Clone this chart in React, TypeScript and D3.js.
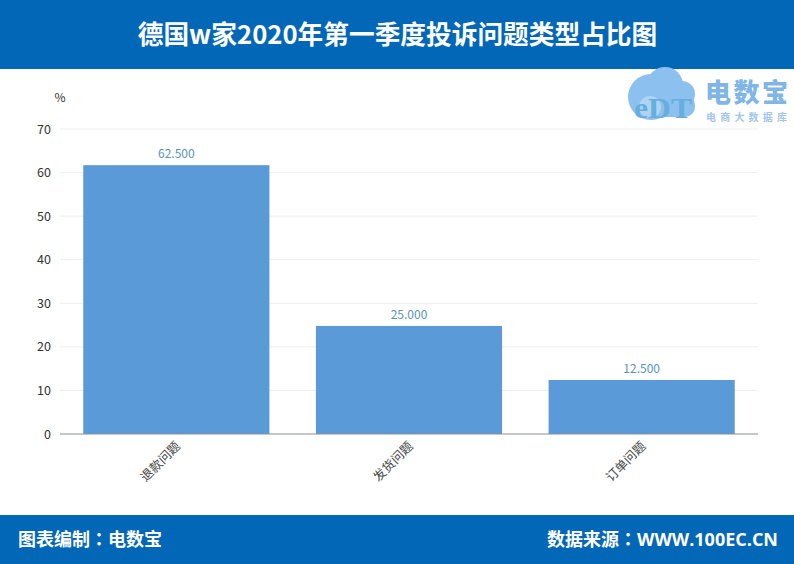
import React from 'react'
import * as d3 from 'd3'

const categories = ['退款问题', '发货问题', '订单问题']
// bar heights as drawn in the picture, labels as printed above them
const barValues = [61.7, 24.8, 12.4]
const barLabels = ['62.500', '25.000', '12.500']
const yTicks = [0, 10, 20, 30, 40, 50, 60, 70]

const titleText = '德国w家2020年第一季度投诉问题类型占比图'
const footerLeft = ['图表编制', '电数宝']
const footerRight = ['数据来源', 'WWW.100EC.CN']

const W = 794
const H = 564
const CJK = '"Noto Sans CJK SC", "Noto Sans", sans-serif'
const LATIN = '"Open Sans", "Noto Sans CJK SC", sans-serif'
const BLUE = '#0267b7'

const x = d3.scaleBand<string>().domain(categories).range([60, 758]).paddingInner(0.2).paddingOuter(0.1)
const y = d3.scaleLinear().domain([0, 70]).range([434, 129])

// the full-width colon sits centred in the TC face, as in the reference
const Colon: React.FC = () => <tspan fontFamily='"Noto Sans CJK TC"'>：</tspan>

const Logo: React.FC = () => (
  <g>
    <g fill="#8cc0ee">
      <circle cx={651} cy={97} r={23} />
      <circle cx={665} cy={85} r={18} />
      <circle cx={682} cy={94} r={13} />
      <rect x={640} y={95} width={55} height={22} rx={10} />
    </g>
    <circle cx={650} cy={107} r={11} fill="#fff" opacity={0.3} />
    <text x={663} y={118} textAnchor="middle" fontFamily="'Liberation Serif', serif" fontWeight={700} fontSize={30} fill="#66aedd" textLength={58} lengthAdjust="spacingAndGlyphs">eDT</text>
    <text x={705} y={102} fontFamily={CJK} fontWeight={900} fontSize={26} fill="#7fb6e6" textLength={83}>电数宝</text>
    <text x={706} y={121} fontFamily={CJK} fontWeight={700} fontSize={10} fill="#a3c6e8" textLength={81}>电商大数据库</text>
  </g>
)

export default function App() {
  return (
    <svg width={W} height={H} viewBox={`0 0 ${W} ${H}`} style={{ position: 'absolute', left: 0, top: 0 }}>
      <rect width={W} height={H} fill="#fff" />

      <rect width={W} height={69} fill={BLUE} />
      <text x={397.5} y={44} textAnchor="middle" fontFamily={CJK} fontWeight={700} fontSize={25.7} fill="#fff">{titleText}</text>

      <Logo />

      <text x={60} y={102} textAnchor="middle" fontFamily={CJK} fontSize={12} fill="#333">%</text>

      {yTicks.map((t) => (
        <g key={t}>
          {t > 0 && <line x1={60} x2={758} y1={y(t)} y2={y(t)} stroke="#eeeeee" strokeWidth={1} />}
          <text x={51} y={y(t) + 4.5} textAnchor="end" fontFamily={CJK} fontSize={12.5} fill="#333">{t}</text>
        </g>
      ))}

      {categories.map((c, i) => (
        <g key={c}>
          <rect x={x(c)} y={y(barValues[i])} width={x.bandwidth()} height={y(0) - y(barValues[i])} fill="#5b9ad8" />
          <text x={x(c)! + x.bandwidth() / 2} y={y(barValues[i]) - 7} textAnchor="middle" fontFamily={CJK} fontSize={12} fill="#5a93b8">{barLabels[i]}</text>
          <text
            transform={`translate(${x(c)! + x.bandwidth() / 2 + 1},${y(0) + 9}) rotate(-45)`}
            textAnchor="end"
            fontFamily={CJK}
            fontSize={12.5}
            fill="#444"
            dominantBaseline="central"
          >
            {c}
          </text>
        </g>
      ))}

      <line x1={60} x2={758} y1={y(0)} y2={y(0)} stroke="#8a8f94" strokeWidth={1} />

      <rect y={515} width={W} height={49} fill={BLUE} />
      <text x={18} y={546} fontFamily={CJK} fontWeight={700} fontSize={18} fill="#fff">
        {footerLeft[0]}<Colon />{footerLeft[1]}
      </text>
      <text x={778} y={546} textAnchor="end" fontFamily={LATIN} fontWeight={700} fontSize={18} fill="#fff">
        {footerRight[0]}<Colon />{footerRight[1]}
      </text>
    </svg>
  )
}
